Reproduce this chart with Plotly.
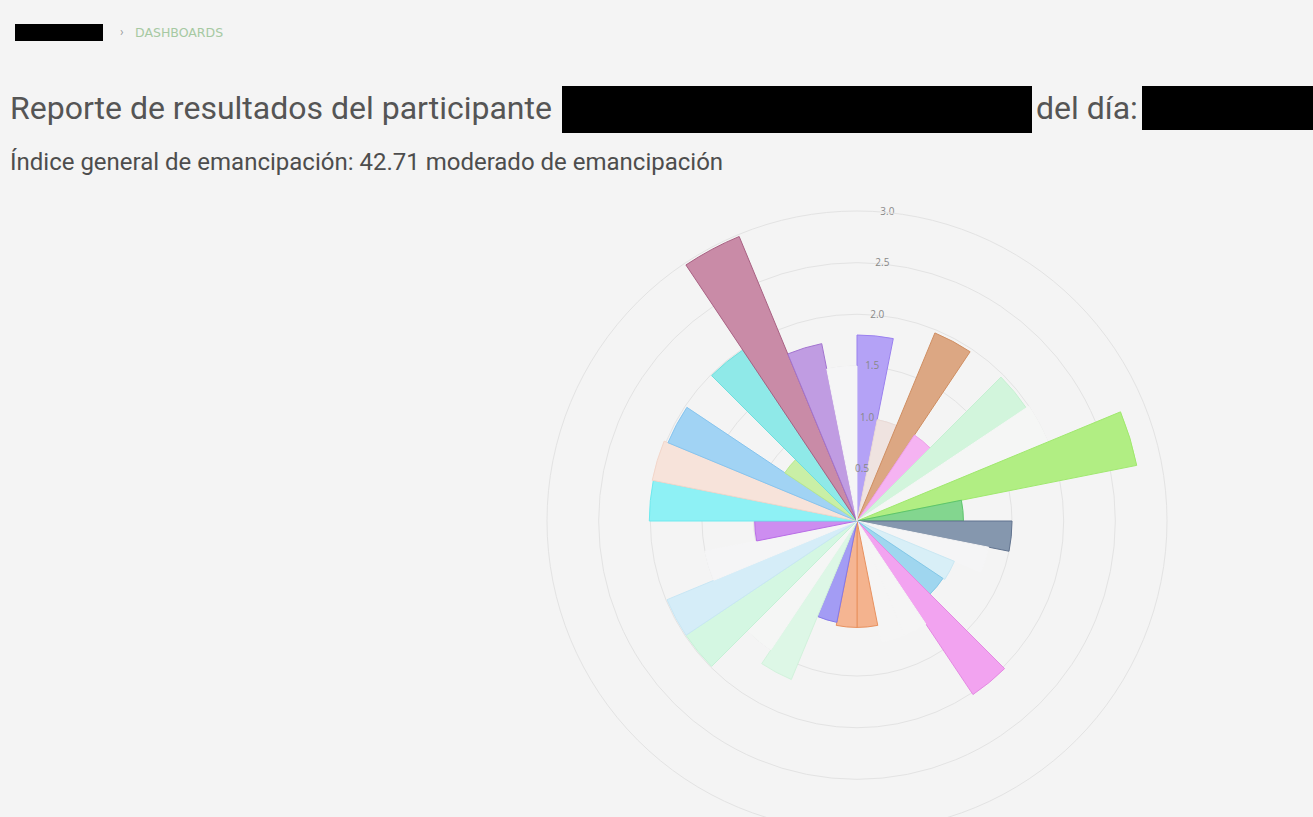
import plotly.graph_objects as go

# ---------------- data ----------------
categories = [f"Dimensión {i}" for i in range(1, 33)]
values = [1.80, 1.00, 1.97, 1.00, 1.97, 2.00, 2.76, 1.03,
          1.50, 1.30, 1.02, 1.00, 2.02, 1.20, 1.20, 1.03,
          1.03, 1.00, 1.66, 1.50, 1.99, 1.99, 1.50, 0.99,
          2.01, 2.02, 1.98, 0.84, 1.99, 2.98, 1.75, 1.50]
fill_colors = ["#b4a2f6", "#efe3e0", "#dca783", "#f5b3f2", "#d2f5dc", "#f5f6f5", "#b1ee83", "#83d68f",
               "#8597ae", "#f5f5f6", "#d8eff7", "#9fd6ef", "#f2a3f0", "#f5f5f5", "#f5f5f5", "#f4b38e",
               "#f5b592", "#a39cf4", "#ddf7e6", "#f5f6f5", "#d4f7e2", "#d5edf8", "#f5f5f6", "#cd8df0",
               "#8ef1f5", "#f7e3da", "#a1d3f4", "#c9efa6", "#8fe9e8", "#c98ba7", "#c09ce2", "#f5f5f6"]
line_colors = ["#9a80ee", "#eadad6", "#cf8e62", "#eea0ea", "#c6f0d2", "#f5f6f5", "#a0e86e", "#5cc46c",
               "#61738f", "#f5f5f6", "#cbe8f3", "#82c8e8", "#e48ae2", "#f5f5f5", "#f5f5f5", "#e8915f",
               "#e8915f", "#8478ea", "#d2f2dc", "#f5f6f5", "#c5f1d6", "#c8e6f4", "#f5f5f6", "#b86de6",
               "#6ee9ee", "#f2d6ca", "#86c4ee", "#b8e88e", "#6fdfdd", "#a86082", "#a274cf", "#f5f5f6"]
tick_values = [0.5, 1.0, 1.5, 2.0, 2.5, 3.0]
tick_labels = ["0.5", "1.0", "1.5", "2.0", "2.5", "3.0"]

title_text = "Reporte de resultados del participante"
day_text = "del día:"
index_value = "42.71"
subtitle_text = f"Índice general de emancipación: {index_value} moderado de emancipación"
breadcrumb = "DASHBOARDS"

# ---------------- layout helpers ----------------
W, H = 1313, 845
BG = "#f4f4f4"
GRID = "#e3e3e3"


def px(x):
    return x / W


def py(y):
    return 1 - y / H


cx, cy, R = 857, 521, 310

fig = go.Figure()
fig.add_trace(go.Barpolar(
    r=values,
    theta=categories,
    marker=dict(color=fill_colors, line=dict(color=line_colors, width=1)),
    hoverinfo="theta+r",
    showlegend=False,
))
fig.add_trace(go.Scatterpolar(
    r=tick_values,
    theta=[categories[0]] * len(tick_values),
    mode="text",
    text=tick_labels,
    textposition="middle center",
    textfont=dict(family="Open Sans, sans-serif", size=10, color="#888888"),
    hoverinfo="skip",
    showlegend=False,
))

fig.update_layout(
    width=W, height=H, autosize=False,
    margin=dict(l=0, r=0, t=0, b=0),
    paper_bgcolor=BG, plot_bgcolor=BG,
    polar=dict(
        domain=dict(x=[px(cx - R), px(cx + R)], y=[py(cy + R), py(cy - R)]),
        bgcolor=BG,
        bargap=0,
        angularaxis=dict(direction="clockwise", rotation=90 - 360 / len(categories) / 2,
                         showgrid=False, showline=True, linecolor=GRID, linewidth=1,
                         showticklabels=False, ticks=""),
        radialaxis=dict(range=[0, 3], tickvals=tick_values, showticklabels=False,
                        showline=False, ticks="", gridcolor=GRID, gridwidth=1),
    ),
    shapes=[
        dict(type="rect", xref="paper", yref="paper", x0=px(15), x1=px(103), y0=py(41), y1=py(24),
             fillcolor="black", line=dict(width=0)),
        dict(type="rect", xref="paper", yref="paper", x0=px(562), x1=px(1032), y0=py(133), y1=py(86),
             fillcolor="black", line=dict(width=0)),
        dict(type="rect", xref="paper", yref="paper", x0=px(1142), x1=px(1313), y0=py(130), y1=py(86),
             fillcolor="black", line=dict(width=0)),
    ],
    annotations=[
        dict(text="›", x=px(118), y=py(32), xref="paper", yref="paper", xanchor="left", yanchor="middle",
             showarrow=False, font=dict(family="Roboto", size=12, color="#999999")),
        dict(text=breadcrumb, x=px(133), y=py(33), xref="paper", yref="paper", xanchor="left", yanchor="middle",
             showarrow=False, font=dict(family="DejaVu Sans", size=12.5, color="#a6c9a2")),
        dict(text=title_text, x=px(8), y=py(108), xref="paper", yref="paper", xanchor="left", yanchor="middle",
             showarrow=False, font=dict(family="Roboto", size=32, color="#555555")),
        dict(text=day_text, x=px(1034), y=py(108), xref="paper", yref="paper", xanchor="left", yanchor="middle",
             showarrow=False, font=dict(family="Roboto", size=32, color="#555555")),
        dict(text=subtitle_text, x=px(8), y=py(162), xref="paper", yref="paper", xanchor="left", yanchor="middle",
             showarrow=False, font=dict(family="Roboto", size=24, color="#4d4d4d")),
    ],
)

fig.write_html(
    "out.html",
    config={"displayModeBar": False},
    post_script="document.body.style.margin='0';document.body.style.overflow='hidden';"
                "document.documentElement.style.overflow='hidden';",
)
